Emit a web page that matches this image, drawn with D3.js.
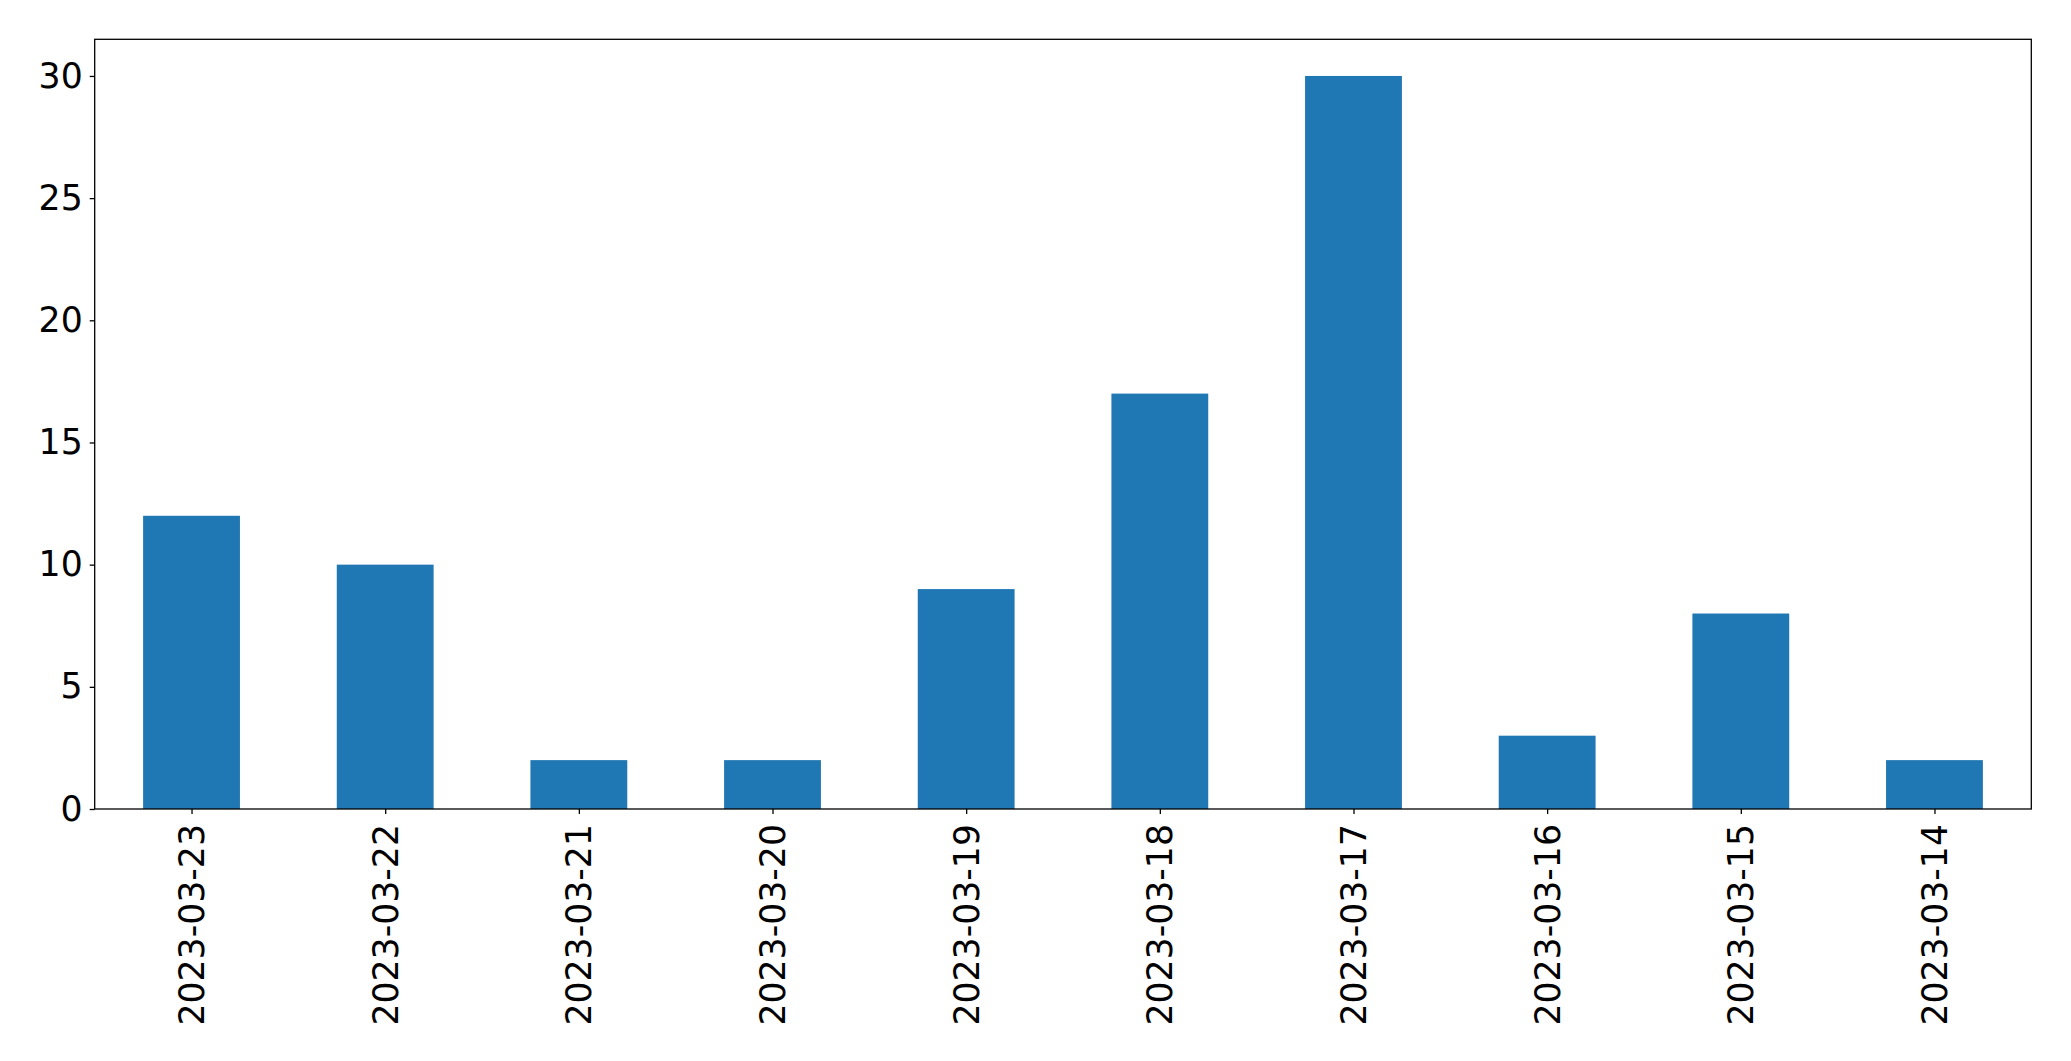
<!DOCTYPE html>
<html><head><meta charset="utf-8">
<script src="https://cdn.jsdelivr.net/npm/d3@7"></script>
<style>body{margin:0;background:#fff}svg{display:block}text{font-family:"DejaVu Sans",sans-serif;fill:#000}</style>
</head><body><svg id="c" width="2071" height="1061"></svg>
<script>
const categories = ["2023-03-23","2023-03-22","2023-03-21","2023-03-20","2023-03-19","2023-03-18","2023-03-17","2023-03-16","2023-03-15","2023-03-14"];
const values = [12,10,2,2,9,17,30,3,8,2];
const yTicks = [0,5,10,15,20,25,30];

const W=2071,H=1061;
const m={left:94.7,right:2031.3,top:39.3,bottom:809};
const svg=d3.select("#c");
const x=d3.scaleLinear().domain([-0.5,categories.length-0.5]).range([m.left,m.right]);
const y=d3.scaleLinear().domain([0,31.5]).range([m.bottom,m.top]);
const fs=34.7;

svg.append("g").selectAll("rect").data(values).join("rect")
  .attr("x",(d,i)=>x(i-0.25)).attr("width",(d,i)=>x(i+0.25)-x(i-0.25))
  .attr("y",d=>y(d)).attr("height",d=>y(0)-y(d)).attr("fill","#1f77b4");

const yAxis=d3.axisLeft(y).tickValues(yTicks).tickSize(5).tickPadding(7).tickFormat(d3.format("d"));
const gy=svg.append("g").attr("transform",`translate(${m.left},0)`).call(yAxis);
gy.select(".domain").remove();
gy.selectAll("line").attr("stroke","#000").attr("stroke-width",1.3);
gy.selectAll("text").attr("font-size",fs).attr("font-family","DejaVu Sans");

const xAxis=d3.axisBottom(x).tickValues(d3.range(categories.length)).tickSize(5).tickFormat(i=>categories[i]);
const gx=svg.append("g").attr("transform",`translate(0,${m.bottom})`).call(xAxis);
gx.select(".domain").remove();
gx.selectAll("line").attr("stroke","#000").attr("stroke-width",1.3);
gx.selectAll("text").attr("font-size",fs).attr("font-family","DejaVu Sans")
  .attr("text-anchor","end").attr("dy",null).attr("y",null)
  .attr("dominant-baseline","central")
  .attr("transform","translate(0,15) rotate(-90)");

svg.append("rect").attr("x",m.left).attr("y",m.top).attr("width",m.right-m.left).attr("height",m.bottom-m.top)
  .attr("fill","none").attr("stroke","#000").attr("stroke-width",1.3);
</script></body></html>
